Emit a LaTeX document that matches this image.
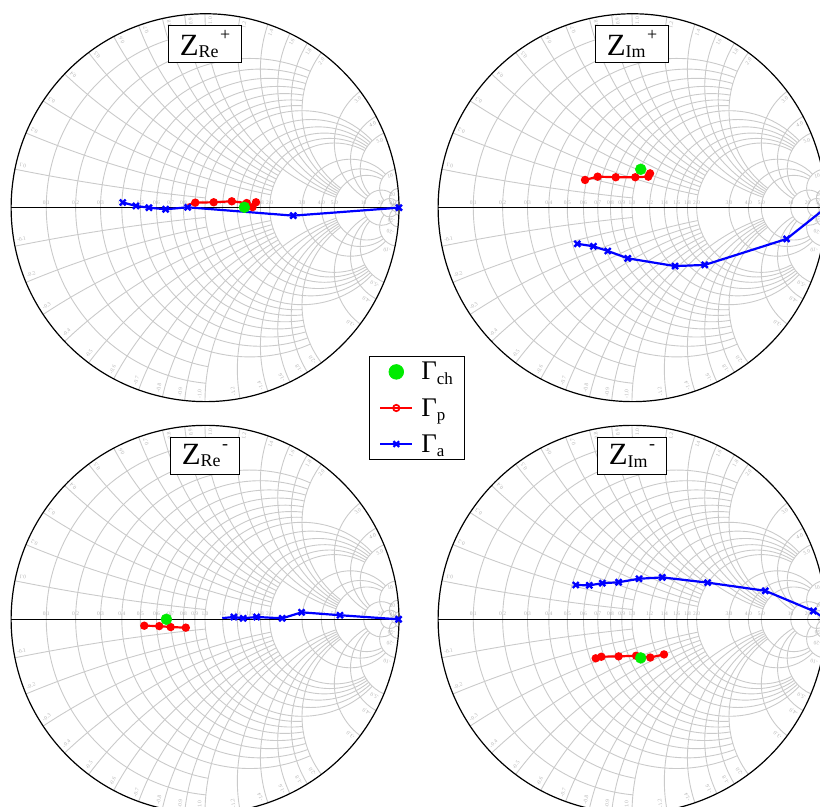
\documentclass[border=0pt]{standalone}
\usepackage{fontspec}
\setmainfont{Liberation Serif}
\usepackage{pgfplots}
\pgfplotsset{compat=1.18}
\usepgfplotslibrary{smithchart}
\definecolor{gridgray}{RGB}{202,202,202}
\definecolor{labgray}{RGB}{180,180,180}
\definecolor{pgreen}{RGB}{0,235,0}
\newcommand{\ttl}[2]{{\fontsize{31}{31}\selectfont Z}\raisebox{-2.7bp}{\fontsize{18}{18}\selectfont #1}\kern1.5bp\raisebox{15bp}{\fontsize{18}{18}\selectfont #2}}
\newcommand{\lsub}[1]{\raisebox{-4.5bp}{\fontsize{17}{17}\selectfont #1}}
\tikzset{titlebox/.style={draw=black, fill=white, line width=0.8bp, inner xsep=11bp, inner ysep=2bp, minimum height=37bp}}
% MATLAB-style Smith grid, drawn in the reflection plane of a chart centred at (#1,#2)
\newcommand{\smithgrid}[2]{%
\begin{scope}[shift={(#1,#2)}, x=194bp, y=194bp, draw=gridgray, line width=0.9bp]
  \foreach \rv/\X in {0.1/1,0.2/1,0.3/2,0.4/2,0.5/2,0.6/2,0.7/2,0.8/2,0.9/2,1/5,1.2/5,1.4/5,1.6/5,1.8/5,2/5,3/10,4/10,5/10,10/20,20/50} {
    \pgfmathsetmacro{\cc}{\rv/(1+\rv)}
    \pgfmathsetmacro{\rr}{1/(1+\rv)}
    \pgfmathsetmacro{\den}{(\rv+1)*(\rv+1)+\X*\X}
    \pgfmathsetmacro{\gx}{(\rv*\rv+\X*\X-1)/\den}
    \pgfmathsetmacro{\gy}{2*\X/\den}
    \pgfmathsetmacro{\ph}{atan2(\gy,\gx-\cc)}
    \pgfmathsetmacro{\phe}{360-\ph}
    \draw (\cc,0) ++(\ph:\rr) arc[start angle=\ph, end angle=\phe, radius=\rr];
  }
  \draw (50/51,0) circle[radius=1/51];
  \foreach \s in {1,-1} {
   \begin{scope}[yscale=\s]
   \foreach \xv/\R in {0.1/1,0.2/1,0.3/2,0.4/2,0.5/2,0.6/2,0.7/2,0.8/2,0.9/2,1/5,1.2/5,1.4/5,1.6/5,1.8/5,2/5,3/10,4/10,5/10,10/20,20/50} {
    \pgfmathsetmacro{\ic}{1/\xv}
    \pgfmathsetmacro{\dz}{\xv*\xv+1}
    \pgfmathsetmacro{\ax}{(\xv*\xv-1)/\dz}
    \pgfmathsetmacro{\ay}{2*\xv/\dz}
    \pgfmathsetmacro{\pa}{atan2(\ay-\ic,\ax-1)}
    \pgfmathsetmacro{\pa}{\pa<0 ? \pa+360 : \pa}
    \pgfmathsetmacro{\dR}{(\R+1)*(\R+1)+\xv*\xv}
    \pgfmathsetmacro{\bx}{(\R*\R+\xv*\xv-1)/\dR}
    \pgfmathsetmacro{\by}{2*\xv/\dR}
    \pgfmathsetmacro{\pb}{atan2(\by-\ic,\bx-1)}
    \pgfmathsetmacro{\pb}{\pb<0 ? \pb+360 : \pb}
    \draw (1,\ic) ++(\pa:\ic) arc[start angle=\pa, end angle=\pb, radius=\ic];
   }
   \draw (1,0.02) ++(92.29:0.02) arc[start angle=92.29, end angle=270, radius=0.02];
   \end{scope}
  }
  \draw[black, line width=0.9bp] (-1,0) -- (1,0);
\end{scope}}
\pgfplotsset{
  mysmith/.style={
    width=388bp, height=388bp, scale only axis, clip=false,
    xtick={0.1,0.2,0.3,0.4,0.5,0.6,0.7,0.8,0.9,1,1.2,1.4,1.6,1.8,2,3,4,5,10,20,50},
    xticklabels={0.1,0.2,0.3,0.4,0.5,0.6,0.7,0.8,0.9,1.0,1.2,1.4,1.6,1.8,2.0,3.0,4.0,5.0,10,20,50},
    ytick={0.1,0.2,0.3,0.4,0.5,0.6,0.7,0.8,0.9,1,1.2,1.4,1.6,1.8,2,3,4,5,10,20,50,
           -0.1,-0.2,-0.3,-0.4,-0.5,-0.6,-0.7,-0.8,-0.9,-1,-1.2,-1.4,-1.6,-1.8,-2,-3,-4,-5,-10,-20,-50},
    yticklabels={0.1,0.2,0.3,0.4,0.5,0.6,0.7,0.8,0.9,1.0,1.2,1.4,1.6,1.8,2.0,3.0,4.0,5.0,10,20,50,
           -0.1,-0.2,-0.3,-0.4,-0.5,-0.6,-0.7,-0.8,-0.9,-1.0,-1.2,-1.4,-1.6,-1.8,-2.0,-3.0,-4.0,-5.0,-10,-20,-50},
    minor xtick={}, minor ytick={},
    grid=none, major tick length=0pt, minor tick length=0pt,
    tick label style={font=\fontsize{5.5}{5.5}\selectfont, text=labgray},
    yticklabel in circle,
    axis line style={line width=1.2bp, black},
  },
  pstyle/.style={is smithchart cs, red, line width=2.2bp, mark=*, mark size=3.4bp, mark options={solid, fill=red, line width=1.5bp}},
  astyle/.style={is smithchart cs, blue, line width=2.2bp, mark=x, mark size=4.2bp, mark options={solid, line width=2.4bp}},
  cstyle/.style={is smithchart cs, only marks, mark=*, mark size=5.5bp, pgreen, mark options={draw=pgreen, fill=pgreen}},
}
\begin{document}
\begin{tikzpicture}
\useasboundingbox (0,0) rectangle (820bp,807bp);
\clip (0,0) rectangle (820bp,807bp);
\smithgrid{205bp}{599.3bp}
\smithgrid{632bp}{599.3bp}
\smithgrid{205bp}{187.7bp}
\smithgrid{632bp}{187.7bp}
% top left
\begin{smithchart}[mysmith, at={(205bp,599.3bp)}, anchor=center]
\addplot[pstyle, mark indices={2,3,4,5,6,7}] coordinates {(-0.090,0.014) (-0.050,0.026) (0.045,0.028) (0.138,0.033) (0.215,0.024) (0.245,0.003) (0.263,0.028)};
\addplot[astyle] coordinates {(-0.424,0.027) (-0.356,0.009) (-0.289,0.000) (-0.203,-0.008) (-0.089,0.002) (0.455,-0.041) (1.0,0)};
\addplot[cstyle] coordinates {(0.203,0.002)};
\node[titlebox] at (axis description cs:0.5,0.922) {\ttl{Re}{+}};
\end{smithchart}
% top right
\begin{smithchart}[mysmith, at={(632bp,599.3bp)}, anchor=center]
\addplot[pstyle] coordinates {(-0.242,0.143) (-0.177,0.160) (-0.084,0.157) (0.017,0.157) (0.084,0.160) (0.093,0.177)};
\addplot[astyle] coordinates {(-0.282,-0.186) (-0.199,-0.199) (-0.125,-0.223) (-0.022,-0.261) (0.222,-0.301) (0.375,-0.295) (0.797,-0.161) (1,0)};
\addplot[cstyle] coordinates {(0.045,0.198)};
\node[titlebox] at (axis description cs:0.5,0.922) {\ttl{Im}{+}};
\end{smithchart}
% bottom left
\begin{smithchart}[mysmith, at={(205bp,187.7bp)}, anchor=center]
\addplot[pstyle] coordinates {(-0.313,-0.033) (-0.236,-0.035) (-0.177,-0.040) (-0.099,-0.043)};
\addplot[astyle, mark indices={2,3,4,5,6,7,8}] coordinates {(0.089,0.006) (0.149,0.012) (0.197,0.005) (0.266,0.012) (0.398,0.005) (0.498,0.036) (0.696,0.021) (0.998,0)};
\addplot[cstyle] coordinates {(-0.199,0.0)};
\node[titlebox] at (axis description cs:0.5,0.922) {\ttl{Re}{-}};
\end{smithchart}
% bottom right
\begin{smithchart}[mysmith, at={(632bp,187.7bp)}, anchor=center,
  legend style={at={(axis description cs:-0.054,1.0446)}, anchor=center, draw=black, fill=white, line width=0.8bp,
    font=\fontsize{27}{27}\selectfont, inner xsep=10bp, inner ysep=4bp, row sep=13bp, column sep=6bp,
    legend cell align=left},
  legend image code/.code={\draw[mark repeat=2,mark phase=2,#1] plot coordinates {(0bp,0bp)(16bp,0bp)(32bp,0bp)};}]
\addplot[pstyle, forget plot] coordinates {(-0.187,-0.201) (-0.158,-0.193) (-0.069,-0.191) (0.021,-0.188) (0.094,-0.197) (0.165,-0.181)};
\addplot[astyle, forget plot] coordinates {(-0.290,0.177) (-0.220,0.175) (-0.153,0.186) (-0.069,0.191) (0.036,0.209) (0.156,0.216) (0.390,0.189) (0.687,0.147) (0.935,0.043) (1,0)};
\addplot[cstyle, forget plot] coordinates {(0.045,-0.199)};
\addlegendimage{only marks, mark=*, mark size=7.3bp, pgreen, mark options={draw=pgreen, fill=pgreen}}
\addlegendentry{Γ\lsub{ch}}
\addlegendimage{red, line width=1.8bp, mark=o, mark size=3.2bp, mark options={solid, fill=white, line width=1.7bp}}
\addlegendentry{Γ\lsub{p}}
\addlegendimage{blue, line width=2bp, mark=x, mark size=4bp, mark options={solid, line width=2.2bp}}
\addlegendentry{Γ\lsub{a}}
\node[titlebox] at (axis description cs:0.5,0.922) {\ttl{Im}{-}};
\end{smithchart}
\end{tikzpicture}
\end{document}
